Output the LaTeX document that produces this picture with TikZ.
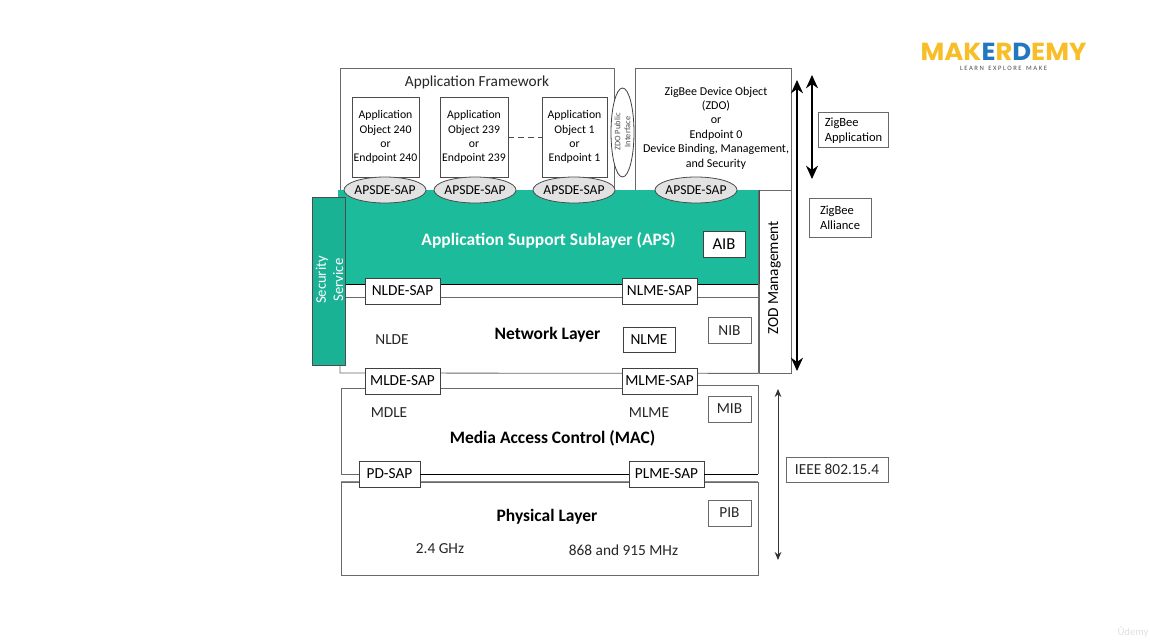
\documentclass[tikz,border=0pt]{standalone}
\usepackage{fontspec}
\setmainfont{Carlito}
\newfontfamily\logofont{Poppins}
\usetikzlibrary{shapes,arrows.meta}
\definecolor{apsgreen}{RGB}{28,187,155}
\definecolor{secgreen}{RGB}{26,178,148}
\definecolor{linegray}{RGB}{105,105,105}
\definecolor{sapgray}{RGB}{226,226,226}
\definecolor{logoyellow}{RGB}{247,190,40}
\definecolor{logoblue}{RGB}{34,120,190}
\tikzset{
  wh/.style 2 args={minimum width=#1*0.75pt,minimum height=#2*0.75pt},
  layerbox/.style={draw=linegray,fill=white,line width=0.6pt,inner sep=0pt},
  sapbox/.style={draw=black!75,fill=white,line width=0.7pt,inner sep=0pt,font=\fontsize{11.5}{13}\selectfont},
  sapoval/.style={ellipse,draw=black!70,fill=sapgray,line width=0.6pt,inner sep=0pt,inner xsep=-3pt,wh={82}{26},font=\fontsize{10.2}{12}\selectfont},
  objtext/.style={align=center,font=\fontsize{8.8}{10.6}\selectfont},
  sidetext/.style={align=left,font=\fontsize{9.4}{11}\selectfont},
  plain/.style={font=\fontsize{11.5}{13}\selectfont,text=black!85},
  heading/.style={font=\fontsize{13.1}{15}\bfseries\selectfont},
  gline/.style={draw=linegray,line width=0.6pt},
  bline/.style={draw=black,line width=0.7pt},
}
\begin{document}
\begin{tikzpicture}[x=0.75pt,y=0.75pt,yscale=-1,xscale=1]
\useasboundingbox (0,0) rectangle (1150,641);
%upper boxes
\node (appframe) [layerbox,wh={274}{122}] at (477,129) {};
\node (apptitle) [font=\fontsize{11.5}{13}\selectfont,text=black!85] at (477,82) {Application Framework};
\node (zdobox) [layerbox,wh={155.5}{122},objtext] at (713.25,129) {};
\node (zdotext) [objtext,font=\fontsize{9}{10.8}\selectfont] at (716,128) {ZigBee Device Object\\(ZDO)\\or\\Endpoint 0\\Device Binding, Management,\\and Security};
\node (zodmgmt) [layerbox,wh={32}{183}] at (775,281.5) {};
\node (zodtext) [rotate=90,font=\fontsize{11.5}{13}\selectfont] at (774.5,278) {ZOD Management};
\node (obj240) [layerbox,draw=black!70,wh={67}{80},objtext] at (385.5,137) {Application\\Object 240\\or\\Endpoint 240};
\node (obj239) [layerbox,draw=black!70,wh={68}{80},objtext] at (474,137) {Application\\Object 239\\or\\Endpoint 239};
\node (obj1) [layerbox,draw=black!70,wh={65}{80},objtext] at (574.5,137) {Application\\Object 1\\or\\Endpoint 1};
\draw [draw=black!70,line width=0.6pt,dash pattern=on 4.5pt off 3pt] (obj239) -- (obj1);
\node (zdopublic) [ellipse,draw=black!75,fill=white,line width=0.6pt,inner sep=0pt,wh={23}{89}] at (622.5,132.5) {};
\node (zdoplabel) [rotate=90,align=center,font=\fontsize{6.3}{7.6}\selectfont,text=black!70] at (622.5,132) {ZDO Public\\Interface};
%green layer
\node (apslayer) [fill=apsgreen,wh={421}{94},inner sep=0pt] at (548.5,237) {};
\draw [bline] (apslayer.south west) -- (apslayer.south east);
\draw [gline,black!70] (apslayer.north east) -- (apslayer.south east);
\node (apstext) [heading,text=white] at (548.5,240) {Application Support Sublayer (APS)};
\node (aib) [sapbox,wh={42}{26},font=\fontsize{12.5}{14}\selectfont] at (724,244) {AIB};
\node (apsde240) [sapoval] at (385,190) {APSDE-SAP};
\node (apsde239) [sapoval] at (475,190) {APSDE-SAP};
\node (apsde1) [sapoval] at (574,190) {APSDE-SAP};
\node (apsde0) [sapoval] at (696,190) {APSDE-SAP};
%network layer
\coordinate (netline) at (345,297);
\coordinate (netleft) at (340,373);
\draw [gline] (netline) -- (netline -| zodmgmt.west);
\draw [gline] (zodmgmt.north west) -- (zodmgmt.south west);
\draw [gline] (340,360) -- (netleft) -- (zodmgmt.south west);
\node (secservice) [draw=black!70,fill=secgreen,line width=0.6pt,wh={33}{168},inner sep=0pt] at (328.5,281) {};
\node (sectext) [rotate=90,align=center,text=white,font=\fontsize{11}{12.8}\selectfont] at (329.5,280) {Security\\Service};
\node (nldesap) [sapbox,wh={75}{26}] at (402.5,291) {NLDE-SAP};
\node (nlmesap) [sapbox,wh={75}{26}] at (659.5,291) {NLME-SAP};
\node (nldetext) [plain] at (392,340) {NLDE};
\node (nettext) [heading] at (547.5,335) {Network Layer};
\node (nlme) [sapbox,wh={52}{25}] at (649,339.5) {NLME};
\node (nib) [layerbox,wh={43}{26},plain] at (729.5,330.5) {NIB};
%mac layer
\coordinate (macleft) at (341,388);
\coordinate (macright) at (758,385);
\coordinate (macbottom) at (758,474);
\draw [gline] (macright) -- (macbottom);
\draw [gline] (macright) -- (macright -| 650,0);
\draw [gline] (macleft) -- (macleft -| 650,0);
\draw [gline] (macleft) -- (341,474) -- (359,474);
\node (physlayer) [layerbox,wh={417}{93}] at (549.5,528.5) {};
\draw [line width=0.8pt,draw=black!45] (physlayer.north west) -- (physlayer.north east);
\node (physlabel) [heading] at (547,517) {Physical Layer};
\node (mldesap) [sapbox,wh={75}{26}] at (402.5,381) {MLDE-SAP};
\node (mlmesap) [sapbox,wh={75}{26}] at (659.5,381) {MLME-SAP};
\node (pdsap) [sapbox,wh={61}{26}] at (389.5,474) {PD-SAP};
\node (plmesap) [sapbox,wh={75}{26}] at (666.5,474) {PLME-SAP};
\draw [bline] (pdsap) -- (plmesap);
\draw [bline] (plmesap) -- (macbottom);
\node (mdletext) [plain] at (389,413) {MDLE};
\node (mlmetext) [plain] at (649,413) {MLME};
\node (mactext) [heading] at (552.5,438) {Media Access Control (MAC)};
\node (mib) [layerbox,wh={43}{26},plain] at (729.5,409) {MIB};
\node (pib) [layerbox,wh={43}{26},plain] at (729.5,513) {PIB};
\node (ghz) [plain] at (440,549) {2.4 GHz};
\node (mhz) [plain] at (623.5,550) {868 and 915 MHz};
%side arrows and labels
\coordinate (alltop) at (797,80);
\coordinate (allbot) at (797,371);
\coordinate (apptop) at (812,75);
\coordinate (appbot) at (812,179);
\coordinate (ieeetop) at (778,389);
\coordinate (ieeebot) at (778,560);
\draw [black,line width=0.8pt,{Stealth[length=10pt,width=9pt]}-{Stealth[length=10pt,width=9pt]}] (alltop) -- (allbot);
\draw [black,line width=0.8pt,{Stealth[length=10pt,width=9pt]}-{Stealth[length=10pt,width=9pt]}] (apptop) -- (appbot);
\draw [black!80,line width=0.7pt,{Stealth[length=6pt,width=5pt]}-{Stealth[length=6pt,width=5pt]}] (ieeetop) -- (ieeebot);
\node (zbapp) [layerbox,wh={70}{35}] at (853,129.5) {};
\node (zbapptext) [sidetext] at (853.5,131) {ZigBee\\Application};
\node (zballi) [layerbox,wh={62}{39},sidetext] at (840,217.5) {ZigBee\\Alliance};
\node (ieee) [layerbox,wh={102}{25},plain] at (837,469.5) {IEEE 802.15.4};
%logo
\node (logo) [xscale=1.05,inner sep=0pt,font=\logofont\fontsize{18.5}{20}\bfseries\selectfont] at (1003.5,52) {\textcolor{logoyellow}{MAK}\textcolor{logoblue}{E}\textcolor{logoyellow}{R}\textcolor{logoblue}{D}\textcolor{logoyellow}{EMY}};
\node (logosub) [inner sep=0pt,font=\fontsize{5}{5}\selectfont,text=black!70] at (1003.5,68) {L E A R N \ \ E X P L O R E \ \ M A K E};
\node (udemy) [font=\fontsize{8}{9}\selectfont,text=black!12] at (1133,632) {Ûdemy};
\end{tikzpicture}
\end{document}
